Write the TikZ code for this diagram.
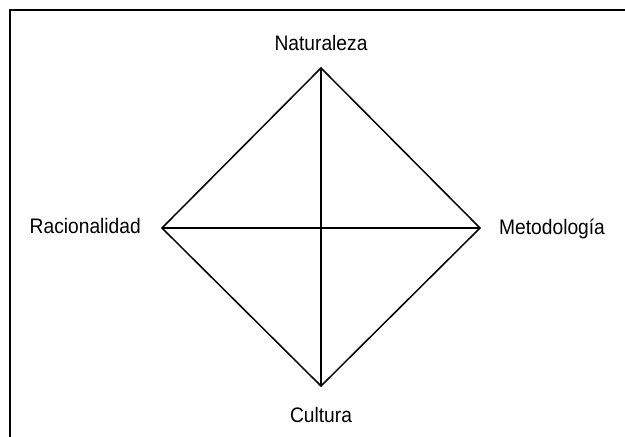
\documentclass[tikz,border=0pt]{standalone}
\usepackage{fontspec}
\setmainfont{Liberation Sans}
\begin{document}
\begin{tikzpicture}[x=1pt,y=-1pt,
  lbl/.style={inner sep=0pt,xscale=0.915,font=\fontsize{21}{24}\selectfont},
  edge/.style={line width=1.5pt}]
\useasboundingbox (0,0) rectangle (625,437);
\draw[line width=2pt] (9.5,437) -- (9.5,10) -- (625,10);
\coordinate (N) at (321,68);
\coordinate (S) at (321,386);
\coordinate (W) at (162,228);
\coordinate (E) at (480,228);
\draw[edge] (N) -- (E) -- (S) -- (W) -- cycle;
\draw[edge] (N) -- (S);
\draw[edge] (W) -- (E);
\node[lbl] (nat) at (321,43) {Naturaleza};
\node[lbl] (cul) at (321,415) {Cultura};
\node[lbl,anchor=east] (rac) at (141,226) {Racionalidad};
\node[lbl,anchor=west] (met) at (499,229) {Metodología};
\end{tikzpicture}
\end{document}
